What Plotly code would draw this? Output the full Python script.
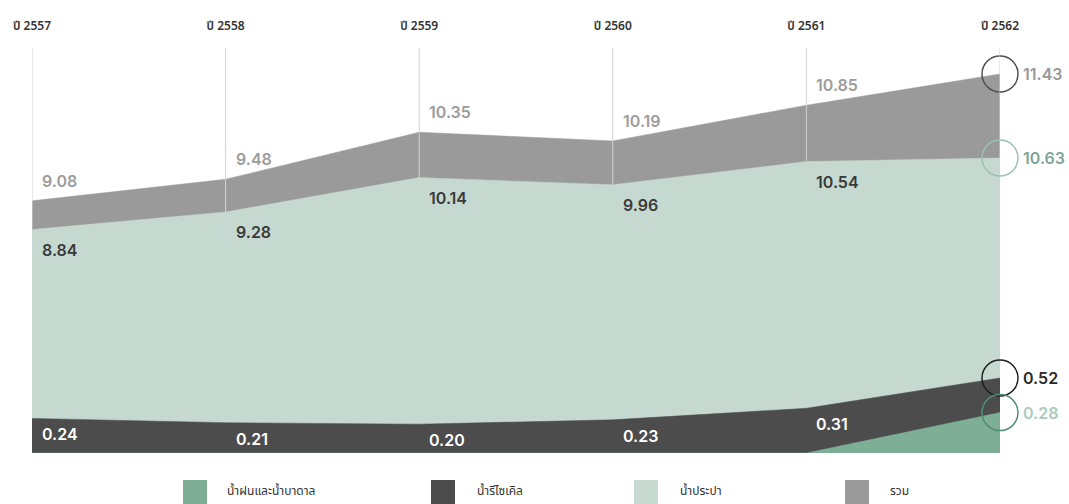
import plotly.graph_objects as go

# ---------------- data ----------------
years = [2557, 2558, 2559, 2560, 2561, 2562]
year_labels = ["ปี 2557", "ปี 2558", "ปี 2559", "ปี 2560", "ปี 2561", "ปี 2562"]
total = [9.08, 9.48, 10.35, 10.19, 10.85, 11.43]
tap = [8.84, 9.28, 10.14, 9.96, 10.54, 10.63]
recycled = [0.24, 0.21, 0.20, 0.23, 0.31, 0.52]
rain = [0, 0, 0, 0, 0, 0.28]
series_names = ["น้ำฝนและน้ำบาดาล", "น้ำรีไซเคิล", "น้ำประปา", "รวม"]

# ---------------- style ----------------
W, H = 1069, 504
ML, MR, MT, MB = 32, 69, 48, 51
PW, PH = W - ML - MR, H - MT - MB

C_TOTAL = "#9a9a9a"
C_TAP = "#c6d9d0"
C_REC = "#4c4c4c"
C_RAIN = "#7fae97"

Y1_RANGE = [4.411, 11.911]
Y2_RANGE = [3.255, 13.38]
Y3_RANGE = [0, 2.808]

NUM_FONT = "Inter, 'Open Sans', sans-serif"
THAI_FONT = "'Noto Sans Thai', 'Noto Sans', sans-serif"

fig = go.Figure()


def area(y, color, axis, name):
    fig.add_trace(go.Scatter(
        x=years, y=y, mode="lines", fill="tozeroy", fillcolor=color,
        line=dict(width=0.5, color=color), yaxis=axis, name=name,
        showlegend=False, hoverinfo="skip"))


area(total, C_TOTAL, "y", series_names[3])
area(tap, C_TAP, "y2", series_names[2])
area(recycled, C_REC, "y3", series_names[1])
area(rain, C_RAIN, "y3", series_names[0])


def ring(series, axis, color):
    fig.add_trace(go.Scatter(
        x=[years[-1]], y=[series[-1]], mode="markers", yaxis=axis,
        marker=dict(symbol="circle-open", size=36,
                    line=dict(width=1.5, color=color), color=color),
        cliponaxis=False, showlegend=False, hoverinfo="skip"))


ring(total, "y", "#505050")
ring(tap, "y2", "#9cc0b1")
ring(recycled, "y3", "#1e1e1e")
ring(rain, "y3", "#4f8f72")

annotations = []
shapes = []

# year guide lines: from the tap-water boundary up to the top of the plot
for i, yr in enumerate(years):
    shapes.append(dict(type="line", xref="x", yref="y2", x0=yr, x1=yr,
                       y0=tap[i], y1=Y2_RANGE[1], layer="above",
                       line=dict(color="#d2d2d2", width=1)))


def lab(x, y, yref, text, color, xshift, yshift):
    annotations.append(dict(
        x=x, y=y, xref="x", yref=yref, text=text, showarrow=False,
        xanchor="left", yanchor="middle", xshift=xshift, yshift=yshift,
        font=dict(family=NUM_FONT, size=16, color=color, weight=600)))


for i in range(len(years) - 1):
    lab(years[i], total[i], "y", f"{total[i]:.2f}", "#9c9c9c", 8, 20)
    lab(years[i], tap[i], "y2", f"{tap[i]:.2f}", "#3a3a3a", 8, -20)
    lab(years[i], recycled[i], "y3", f"{recycled[i]:.2f}", "#ffffff", 8, -16)

lab(years[-1], total[-1], "y", f"{total[-1]:.2f}", "#999999", 21, 0)
lab(years[-1], tap[-1], "y2", f"{tap[-1]:.2f}", "#7ea597", 21, 0)
lab(years[-1], recycled[-1], "y3", f"{recycled[-1]:.2f}", "#2b2b2b", 21, 0)
lab(years[-1], rain[-1], "y3", f"{rain[-1]:.2f}", "#a9cbbd", 21, 0)


# ---------------- custom legend ----------------
def px2x(px):
    return (px - ML) / PW


def py2y(py):
    return (MT + PH - py) / PH


legend_items = [
    (series_names[0], C_RAIN, 183, 225),
    (series_names[1], C_REC, 431, 475),
    (series_names[2], C_TAP, 634, 678),
    (series_names[3], C_TOTAL, 845, 888),
]
for name, color, sx, tx in legend_items:
    shapes.append(dict(type="rect", xref="paper", yref="paper",
                       x0=px2x(sx), x1=px2x(sx + 24), y0=py2y(505), y1=py2y(480),
                       fillcolor=color, line=dict(width=0)))
    annotations.append(dict(
        x=px2x(tx), y=py2y(491), xref="paper", yref="paper", text=name,
        showarrow=False, xanchor="left", yanchor="middle",
        font=dict(family=THAI_FONT, size=12, color="#333333")))

fig.update_layout(
    width=W, height=H,
    margin=dict(l=ML, r=MR, t=MT, b=MB),
    paper_bgcolor="white", plot_bgcolor="white",
    showlegend=False,
    xaxis=dict(range=[years[0], years[-1]], side="top", tickmode="array",
               tickvals=years, ticktext=year_labels, showgrid=False,
               zeroline=False, showline=False,
               ticks="", ticklabelstandoff=15,
               tickfont=dict(family=THAI_FONT, size=12, color="#333333",
                             weight=600)),
    yaxis=dict(range=Y1_RANGE, visible=False, showgrid=False, zeroline=False),
    yaxis2=dict(range=Y2_RANGE, overlaying="y", visible=False,
                showgrid=False, zeroline=False),
    yaxis3=dict(range=Y3_RANGE, overlaying="y", visible=False,
                showgrid=False, zeroline=False),
    shapes=shapes,
    annotations=annotations,
)

fig.write_html("out.html")
